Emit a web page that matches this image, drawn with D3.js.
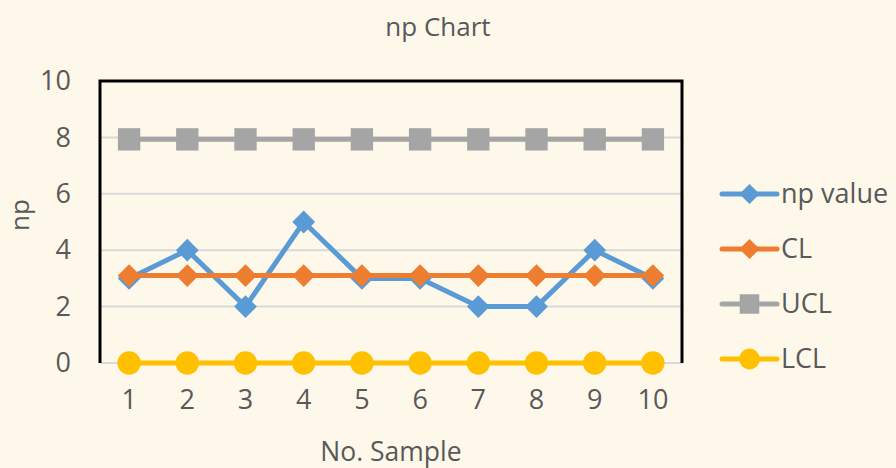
<!DOCTYPE html>
<html>
<head>
<meta charset="utf-8">
<script src="https://cdn.jsdelivr.net/npm/d3@7"></script>
<style>
  body { margin: 0; background: #FEF8EB; }
  text { font-family: "Open Sans", sans-serif; fill: #595959; }
</style>
</head>
<body>
<svg id="chart"></svg>
<script>
var samples = [1, 2, 3, 4, 5, 6, 7, 8, 9, 10];
var npValue = [3, 4, 2, 5, 3, 3, 2, 2, 4, 3];
var clValue = [3.1, 3.1, 3.1, 3.1, 3.1, 3.1, 3.1, 3.1, 3.1, 3.1];
var uclValue = [7.93, 7.93, 7.93, 7.93, 7.93, 7.93, 7.93, 7.93, 7.93, 7.93];
var lclValue = [0, 0, 0, 0, 0, 0, 0, 0, 0, 0];
var yTicks = [0, 2, 4, 6, 8, 10];
var seriesNames = ["np value", "CL", "UCL", "LCL"];

var width = 896;
var height = 468;
var plotLeft = 100, plotRight = 682, plotTop = 81, plotBottom = 363;

var series = [
  {name: seriesNames[0], values: npValue, color: "#5B9BD5", shape: "diamond"},
  {name: seriesNames[1], values: clValue, color: "#ED7D31", shape: "diamond"},
  {name: seriesNames[2], values: uclValue, color: "#A5A5A5", shape: "square"},
  {name: seriesNames[3], values: lclValue, color: "#FFC000", shape: "circle"}
];

var svg = d3.select("#chart")
  .attr("width", width)
  .attr("height", height);

svg.append("rect")
  .attr("width", width)
  .attr("height", height)
  .attr("fill", "#FEF8EB");

var x = d3.scaleBand()
  .domain(samples)
  .range([plotLeft, plotRight]);

var y = d3.scaleLinear()
  .domain([0, 10])
  .range([plotBottom, plotTop]);

// gridlines
svg.selectAll(".grid")
  .data(yTicks)
  .enter()
  .append("line")
  .attr("x1", plotLeft)
  .attr("x2", plotRight)
  .attr("y1", function(d){ return y(d); })
  .attr("y2", function(d){ return y(d); })
  .attr("stroke", "#D9D9D9")
  .attr("stroke-width", 2);

// plot border (left, top, right)
svg.append("path")
  .attr("d", "M" + plotLeft + "," + plotBottom + "V" + plotTop + "H" + plotRight + "V" + plotBottom)
  .attr("fill", "none")
  .attr("stroke", "#000")
  .attr("stroke-width", 3);

// y axis labels
var yAxis = d3.axisLeft(y).tickValues(yTicks).tickSize(0).tickPadding(29);
svg.append("g")
  .attr("transform", "translate(" + plotLeft + ",0)")
  .call(yAxis)
  .call(function(g){ g.select(".domain").remove(); })
  .selectAll("text")
  .attr("font-size", "27px")
  .attr("font-family", "Open Sans, sans-serif")
  .attr("fill", "#595959");

// x axis labels
var xAxis = d3.axisBottom(x).tickSize(0).tickPadding(27);
svg.append("g")
  .attr("transform", "translate(0," + plotBottom + ")")
  .call(xAxis)
  .call(function(g){ g.select(".domain").remove(); })
  .selectAll("text")
  .attr("font-size", "27px")
  .attr("font-family", "Open Sans, sans-serif")
  .attr("fill", "#595959");

var line = d3.line()
  .x(function(d, i){ return x(samples[i]) + x.bandwidth() / 2; })
  .y(function(d){ return y(d); });

var symbolFor = function(shape){
  if (shape === "diamond") return d3.symbol().type(d3.symbolDiamond2).size(330);
  if (shape === "square") return d3.symbol().type(d3.symbolSquare).size(500);
  return d3.symbol().type(d3.symbolCircle).size(430);
};

series.forEach(function(s){
  var g = svg.append("g");
  g.append("path")
    .datum(s.values)
    .attr("d", line)
    .attr("fill", "none")
    .attr("stroke", s.color)
    .attr("stroke-width", 5)
    .attr("stroke-linejoin", "round");
  g.selectAll("path.mark")
    .data(s.values)
    .enter()
    .append("path")
    .attr("class", "mark")
    .attr("d", symbolFor(s.shape))
    .attr("transform", function(d, i){
      return "translate(" + (x(samples[i]) + x.bandwidth() / 2) + "," + y(d) + ")";
    })
    .attr("fill", s.color);
});

// legend
var legend = svg.selectAll(".legend")
  .data(series)
  .enter()
  .append("g")
  .attr("transform", function(d, i){ return "translate(722," + (194 + i * 55) + ")"; });

legend.append("line")
  .attr("x1", 0)
  .attr("x2", 55)
  .attr("stroke", function(d){ return d.color; })
  .attr("stroke-width", 5)
  .attr("stroke-linecap", "round");

legend.append("path")
  .attr("d", function(d){
    if (d.shape === "diamond") return d3.symbol().type(d3.symbolDiamond2).size(260)();
    if (d.shape === "square") return d3.symbol().type(d3.symbolSquare).size(380)();
    return d3.symbol().type(d3.symbolCircle).size(340)();
  })
  .attr("transform", "translate(27.5,0)")
  .attr("fill", function(d){ return d.color; });

legend.append("text")
  .text(function(d){ return d.name; })
  .attr("x", 59)
  .attr("dy", "0.35em")
  .attr("font-size", "27px");

// titles
svg.append("text")
  .text("np Chart")
  .attr("x", 438)
  .attr("y", 36)
  .attr("text-anchor", "middle")
  .attr("font-size", "26px");

svg.append("text")
  .text("No. Sample")
  .attr("x", 391)
  .attr("y", 461)
  .attr("text-anchor", "middle")
  .attr("font-size", "26.5px");

svg.append("text")
  .text("np")
  .attr("transform", "translate(29,215) rotate(-90)")
  .attr("text-anchor", "middle")
  .attr("font-size", "26px");
</script>
</body>
</html>
